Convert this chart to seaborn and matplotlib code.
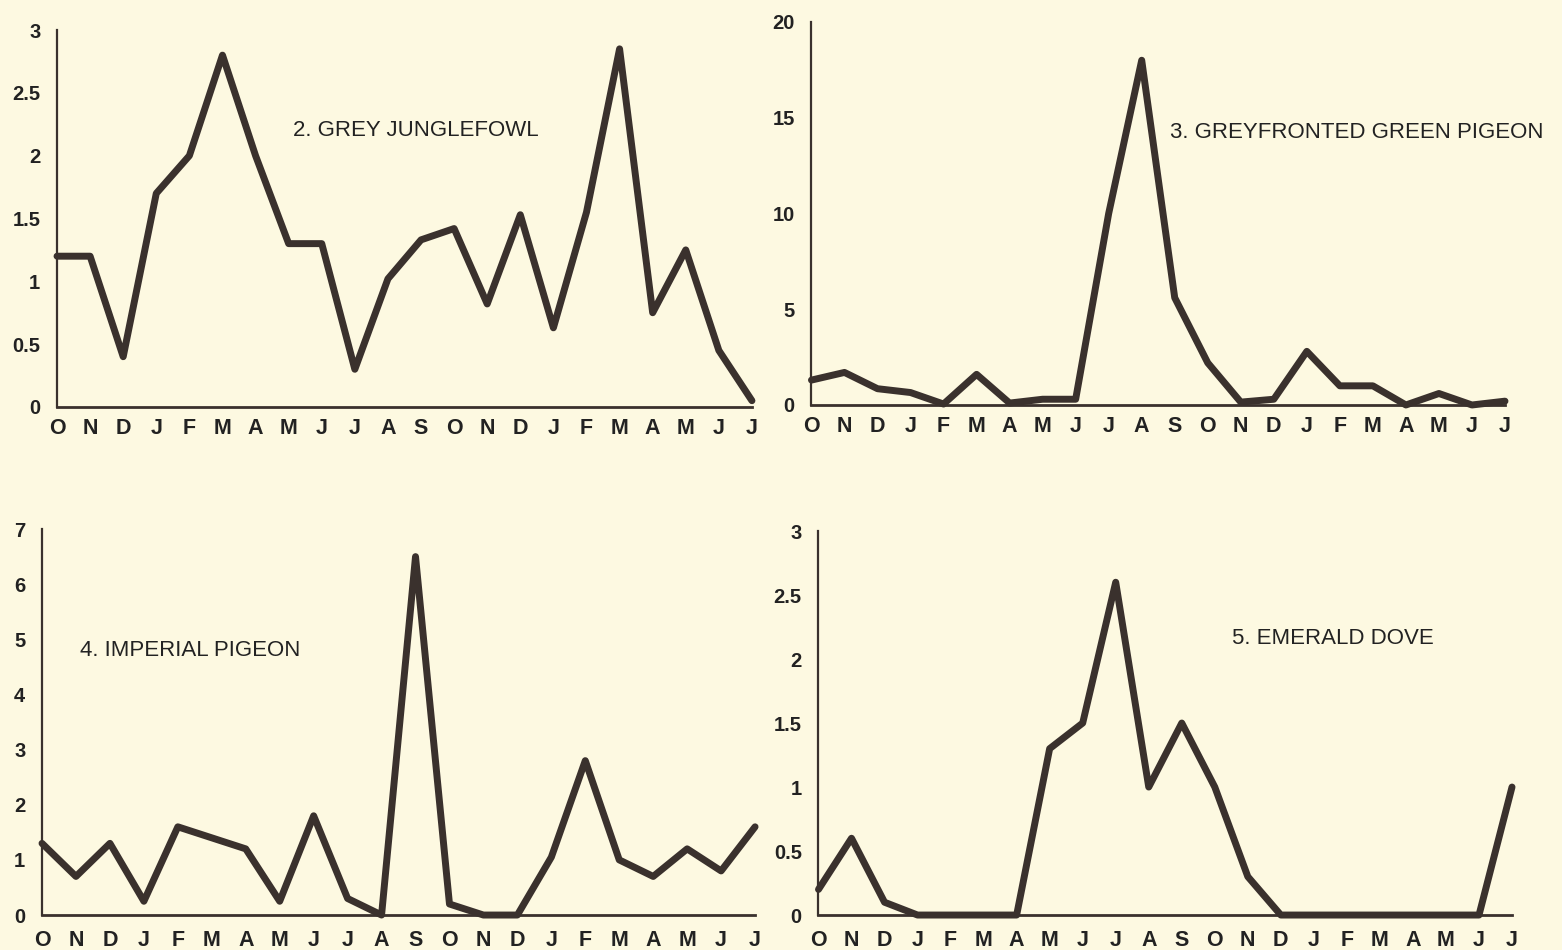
import matplotlib
matplotlib.use('Agg')
import matplotlib.pyplot as plt
import seaborn as sns
import pandas as pd

# month sequence, Oct to Jul of the following year and a half
months = ['O', 'N', 'D', 'J', 'F', 'M', 'A', 'M', 'J', 'J', 'A',
          'S', 'O', 'N', 'D', 'J', 'F', 'M', 'A', 'M', 'J', 'J']

grey_junglefowl = [1.2, 1.2, 0.4, 1.7, 2.0, 2.8, 2.0, 1.3, 1.3, 0.3, 1.02,
                   1.33, 1.42, 0.82, 1.53, 0.63, 1.55, 2.85, 0.75, 1.25, 0.45, 0.05]
greyfronted_pigeon = [1.3, 1.7, 0.85, 0.65, 0.05, 1.6, 0.1, 0.3, 0.3, 10.0, 18.0,
                      5.6, 2.2, 0.15, 0.3, 2.8, 1.0, 1.0, 0.0, 0.6, 0.0, 0.2]
imperial_pigeon = [1.3, 0.7, 1.3, 0.25, 1.6, 1.4, 1.2, 0.25, 1.8, 0.3, 0.0,
                   6.5, 0.2, 0.0, 0.0, 1.05, 2.8, 1.0, 0.7, 1.2, 0.8, 1.6]
emerald_dove = [0.2, 0.6, 0.1, 0.0, 0.0, 0.0, 0.0, 1.3, 1.5, 2.6, 1.0,
                1.5, 1.0, 0.3, 0.0, 0.0, 0.0, 0.0, 0.0, 0.0, 0.0, 1.0]

titles = ['2. GREY JUNGLEFOWL', '3. GREYFRONTED GREEN PIGEON',
          '4. IMPERIAL PIGEON', '5. EMERALD DOVE']

ticks_small = [0, 0.5, 1, 1.5, 2, 2.5, 3]
ticklabels_small = ['0', '0.5', '1', '1.5', '2', '2.5', '3']
ticks_pigeon = [0, 5, 10, 15, 20]
ticks_imperial = [0, 1, 2, 3, 4, 5, 6, 7]

bg = '#fdf9e1'
ink = '#3a312d'

sns.set_style('white')
plt.rcParams['font.family'] = ['Liberation Sans', 'DejaVu Sans']

fig = plt.figure(figsize=(15.62, 9.5), dpi=100, facecolor=bg)

panels = [
    (grey_junglefowl, [0.0365, 0.5716, 0.4449, 0.3968], ticks_small, ticklabels_small, 3,
     (293 / 1562, 1 - 130 / 950), 8),
    (greyfronted_pigeon, [0.5195, 0.5737, 0.4440, 0.4032], ticks_pigeon,
     [str(t) for t in ticks_pigeon], 20, (1170 / 1562, 1 - 133 / 950), 8),
    (imperial_pigeon, [0.0269, 0.0368, 0.4565, 0.4063], ticks_imperial,
     [str(t) for t in ticks_imperial], 7, (80 / 1562, 1 - 651 / 950), 11),
    (emerald_dove, [0.5240, 0.0368, 0.4440, 0.4042], ticks_small, ticklabels_small, 3,
     (1232 / 1562, 1 - 638 / 950), 11),
]

for (vals, rect, yt, ytl, ymax, tpos, xpad), title in zip(panels, titles):
    ax = fig.add_axes(rect)
    ax.set_facecolor(bg)
    df = pd.DataFrame({'month': range(len(months)), 'count': vals})
    sns.lineplot(data=df, x='month', y='count', ax=ax, color=ink, lw=5,
                 solid_joinstyle='round', clip_on=False)
    ax.set_xlim(0, len(months) - 1)
    ax.set_ylim(0, ymax)
    ax.set_xticks(range(len(months)))
    ax.set_xticklabels(months, fontsize=15.5, fontweight='bold', color='#222222')
    ax.set_yticks(yt)
    ax.set_yticklabels(ytl, fontsize=14.5, fontweight='bold', color='#222222')
    ax.tick_params(axis='both', length=0)
    ax.tick_params(axis='x', pad=xpad)
    ax.tick_params(axis='y', pad=12)
    ax.set_xlabel('')
    ax.set_ylabel('')
    for s in ['top', 'right']:
        ax.spines[s].set_visible(False)
    ax.spines['left'].set_color(ink)
    ax.spines['left'].set_linewidth(1.6)
    ax.spines['bottom'].set_color(ink)
    ax.spines['bottom'].set_linewidth(2.0)
    fig.text(tpos[0], tpos[1], title, fontsize=16, color='#222222', va='center', ha='left')

fig.savefig('out.png', dpi=100, facecolor=bg)
